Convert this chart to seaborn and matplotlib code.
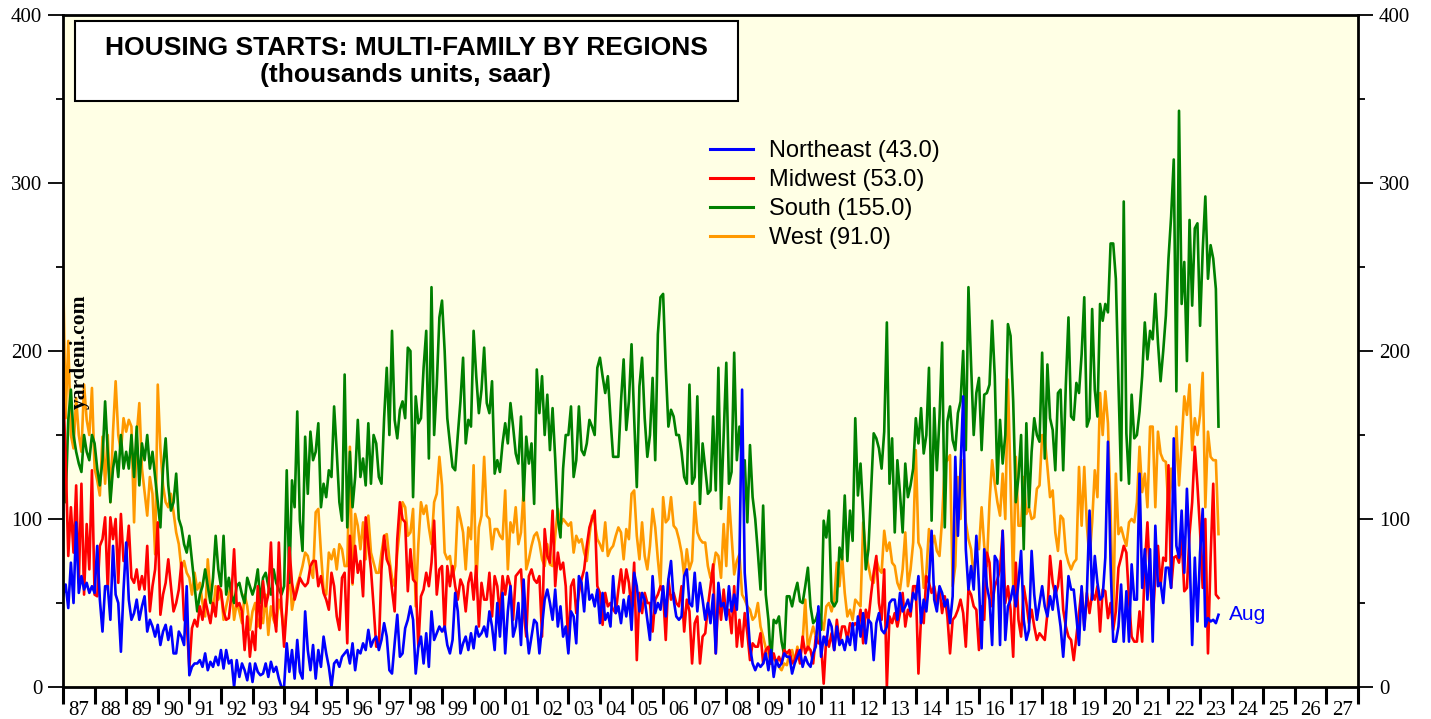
import matplotlib
matplotlib.use("Agg")
import matplotlib.pyplot as plt
import matplotlib.patches as patches
from matplotlib.lines import Line2D
from matplotlib.ticker import MultipleLocator, FixedLocator, FixedFormatter, NullFormatter
import numpy as np
import pandas as pd
import seaborn as sns

# Monthly housing starts, multi-family, thousands of units (saar), Jan 1987 - Aug 2023
northeast = [
    54, 61, 47, 74, 50, 98, 56, 66, 58, 62, 56, 60,   # 1987
    56, 84, 52, 33, 60, 60, 40, 84, 55, 50, 21, 58,   # 1988
    86, 52, 40, 44, 52, 40, 48, 54, 33, 40, 36, 30,   # 1989
    37, 25, 33, 37, 28, 36, 20, 20, 33, 30, 25, 60,   # 1990
    7, 12, 14, 14, 16, 12, 20, 10, 15, 12, 18, 13,    # 1991
    22, 11, 22, 14, 16, 0, 16, 6, 14, 10, 4, 14,      # 1992
    3, 14, 9, 7, 8, 14, 6, 15, 9, 12, 5, 0,           # 1993
    0, 26, 9, 22, 5, 28, 9, 5, 45, 22, 10, 25,        # 1994
    5, 22, 12, 30, 20, 12, 0, 14, 16, 12, 18, 20,     # 1995
    22, 14, 26, 10, 22, 20, 26, 22, 34, 24, 28, 30,   # 1996
    22, 28, 38, 30, 10, 8, 26, 43, 18, 20, 35, 40,    # 1997
    48, 40, 8, 24, 30, 14, 32, 12, 45, 28, 32, 36,    # 1998
    33, 36, 25, 20, 28, 56, 45, 20, 26, 30, 22, 32,   # 1999
    23, 36, 30, 32, 36, 30, 45, 36, 22, 50, 30, 56,   # 2000
    20, 45, 60, 30, 36, 50, 25, 64, 36, 20, 30, 40,   # 2001
    38, 20, 36, 52, 58, 50, 40, 58, 36, 48, 30, 36,   # 2002
    20, 45, 42, 26, 66, 62, 45, 68, 52, 55, 48, 58,   # 2003
    38, 56, 40, 44, 36, 66, 44, 48, 38, 52, 42, 54,   # 2004
    34, 68, 60, 45, 56, 52, 40, 28, 66, 44, 50, 46,   # 2005
    60, 42, 64, 75, 52, 42, 40, 42, 66, 70, 50, 48,   # 2006
    68, 45, 62, 52, 40, 50, 38, 55, 20, 62, 48, 50,   # 2007
    40, 60, 45, 55, 46, 76, 177, 68, 46, 24, 14, 10,  # 2008
    14, 12, 14, 20, 10, 22, 6, 16, 12, 14, 20, 18,    # 2009
    18, 8, 14, 18, 22, 12, 18, 14, 12, 20, 24, 48,    # 2010
    18, 30, 25, 40, 36, 22, 36, 25, 28, 22, 30, 25,   # 2011
    38, 22, 42, 30, 44, 26, 40, 38, 16, 38, 44, 34,   # 2012
    32, 36, 50, 52, 52, 40, 56, 45, 48, 52, 45, 56,   # 2013
    52, 66, 38, 52, 45, 62, 93, 52, 45, 60, 56, 48,   # 2014
    52, 38, 54, 137, 90, 130, 173, 82, 58, 72, 58, 90,  # 2015
    60, 23, 82, 60, 52, 25, 78, 75, 25, 93, 28, 48,   # 2016
    52, 60, 48, 62, 81, 40, 28, 34, 81, 55, 40, 50,   # 2017
    60, 48, 42, 54, 46, 60, 48, 36, 18, 40, 66, 58,   # 2018
    58, 42, 25, 60, 34, 56, 105, 52, 78, 62, 52, 54,  # 2019
    77, 146, 73, 27, 27, 36, 61, 27, 57, 27, 73, 52,  # 2020
    52, 127, 59, 82, 52, 82, 27, 96, 60, 62, 50, 71,  # 2021
    71, 59, 148, 84, 77, 105, 68, 118, 80, 25, 77, 39,  # 2022
    80, 106, 36, 41, 39, 40, 38, 43,                  # 2023
]

midwest = [
    181, 137, 78, 107, 80, 120, 62, 121, 55, 97, 70, 129,  # 1987
    55, 54, 84, 88, 101, 58, 101, 88, 100, 62, 103, 75,    # 1988
    78, 96, 65, 62, 70, 58, 66, 58, 84, 45, 60, 70,        # 1989
    98, 43, 55, 62, 76, 60, 45, 50, 58, 74, 40, 38,        # 1990
    11, 35, 40, 36, 48, 40, 52, 45, 38, 50, 42, 60,        # 1991
    57, 45, 40, 41, 55, 82, 48, 50, 45, 22, 42, 18,        # 1992
    33, 22, 60, 35, 63, 48, 55, 86, 45, 33, 86, 48,        # 1993
    24, 48, 83, 62, 52, 58, 65, 62, 60, 62, 72, 75,        # 1994
    75, 60, 66, 56, 52, 46, 68, 60, 42, 34, 65, 68,        # 1995
    26, 90, 62, 84, 68, 75, 54, 101, 85, 70, 48, 24,       # 1996
    24, 70, 90, 76, 72, 58, 45, 88, 110, 100, 98, 57,      # 1997
    82, 64, 62, 24, 54, 58, 68, 60, 74, 99, 55, 70,        # 1998
    72, 33, 72, 60, 72, 60, 52, 64, 60, 45, 62, 68,        # 1999
    52, 72, 36, 62, 52, 52, 68, 42, 66, 60, 42, 66,        # 2000
    55, 66, 60, 40, 66, 68, 70, 45, 30, 66, 70, 64,        # 2001
    62, 66, 30, 94, 78, 74, 105, 60, 80, 70, 74, 60,       # 2002
    22, 60, 64, 44, 56, 64, 70, 84, 95, 100, 105, 60,      # 2003
    56, 37, 56, 48, 50, 46, 44, 58, 70, 56, 70, 62,        # 2004
    46, 74, 16, 56, 44, 56, 50, 50, 33, 52, 55, 60,        # 2005
    56, 28, 64, 52, 56, 50, 48, 60, 33, 52, 45, 14,        # 2006
    38, 42, 14, 30, 32, 48, 60, 73, 20, 55, 40, 58,        # 2007
    42, 46, 32, 60, 24, 40, 24, 44, 32, 16, 26, 24,        # 2008
    24, 32, 14, 22, 24, 14, 20, 14, 18, 14, 22, 20,        # 2009
    22, 14, 16, 22, 14, 30, 20, 24, 22, 14, 30, 26,        # 2010
    26, 2, 30, 24, 32, 22, 40, 26, 36, 36, 28, 38,         # 2011
    36, 38, 36, 46, 26, 46, 40, 55, 68, 78, 50, 40,        # 2012
    70, 0, 42, 38, 44, 36, 44, 56, 36, 46, 42, 60,         # 2013
    60, 8, 42, 38, 66, 62, 56, 60, 50, 58, 44, 54,         # 2014
    42, 20, 40, 42, 46, 52, 44, 24, 58, 55, 48, 46,        # 2015
    22, 48, 40, 80, 74, 48, 60, 64, 70, 93, 50, 60,        # 2016
    46, 18, 74, 40, 30, 60, 50, 38, 46, 36, 28, 32,        # 2017
    30, 28, 44, 78, 62, 55, 60, 75, 46, 36, 30, 28,        # 2018
    16, 30, 44, 58, 36, 56, 44, 56, 52, 60, 33, 58,        # 2019
    57, 41, 50, 34, 45, 71, 77, 84, 80, 52, 30, 27,        # 2020
    27, 45, 27, 73, 98, 64, 39, 66, 84, 60, 77, 75,        # 2021
    132, 59, 77, 78, 74, 89, 57, 59, 91, 110, 143, 120,    # 2022
    93, 59, 100, 20, 77, 121, 55, 53,                      # 2023
]

south = [
    141, 110, 159, 177, 150, 140, 133, 128, 150, 140, 135, 150,  # 1987
    145, 130, 120, 135, 170, 140, 110, 130, 140, 125, 150, 130,  # 1988
    140, 130, 150, 125, 155, 120, 145, 135, 150, 130, 140, 125,  # 1989
    110, 95, 130, 148, 120, 105, 110, 127, 100, 95, 85, 80,      # 1990
    90, 75, 60, 45, 55, 60, 70, 60, 50, 65, 90, 70,              # 1991
    60, 90, 55, 65, 55, 50, 60, 62, 55, 50, 65, 60,              # 1992
    55, 60, 70, 50, 65, 68, 60, 55, 70, 62, 58, 55,              # 1993
    60, 129, 62, 123, 107, 164, 99, 81, 149, 115, 152, 135,      # 1994
    140, 157, 107, 121, 113, 129, 125, 167, 140, 110, 99, 186,   # 1995
    95, 140, 107, 125, 159, 125, 136, 120, 157, 121, 150, 145,   # 1996
    125, 121, 160, 190, 150, 212, 159, 148, 165, 170, 160, 202,  # 1997
    200, 113, 173, 157, 160, 190, 212, 136, 238, 150, 180, 220,  # 1998
    230, 200, 160, 145, 131, 129, 150, 170, 196, 145, 159, 155,  # 1999
    212, 185, 163, 177, 202, 169, 163, 182, 127, 135, 128, 145,  # 2000
    157, 145, 169, 155, 139, 133, 161, 111, 149, 133, 145, 109,  # 2001
    189, 163, 185, 150, 174, 141, 166, 136, 100, 89, 130, 150,   # 2002
    150, 167, 125, 135, 167, 141, 138, 145, 159, 155, 150, 190,  # 2003
    196, 185, 175, 185, 160, 137, 137, 137, 170, 195, 153, 170,  # 2004
    204, 160, 119, 179, 196, 160, 137, 150, 184, 135, 210, 232,  # 2005
    234, 190, 155, 165, 161, 150, 150, 140, 125, 121, 180, 121,  # 2006
    125, 173, 109, 145, 130, 115, 117, 161, 117, 190, 106, 150,  # 2007
    193, 121, 128, 199, 135, 155, 133, 135, 98, 144, 113, 100,   # 2008
    80, 58, 108, 55, 40, 14, 40, 38, 42, 27, 19, 54,             # 2009
    54, 48, 56, 62, 51, 50, 60, 71, 48, 38, 40, 45,              # 2010
    34, 99, 89, 105, 51, 48, 51, 83, 76, 114, 75, 105,           # 2011
    87, 160, 114, 133, 104, 70, 82, 116, 151, 148, 142, 130,     # 2012
    152, 217, 121, 148, 92, 135, 115, 92, 133, 113, 120, 130,    # 2013
    160, 145, 166, 139, 150, 190, 99, 166, 129, 160, 205, 95,    # 2014
    158, 167, 147, 141, 163, 170, 200, 141, 238, 192, 150, 175,  # 2015
    184, 141, 174, 175, 180, 218, 185, 121, 159, 133, 150, 216,  # 2016
    209, 170, 110, 125, 150, 82, 157, 107, 140, 160, 150, 146,   # 2017
    199, 136, 192, 160, 153, 129, 175, 177, 129, 180, 220, 161,  # 2018
    159, 181, 175, 198, 232, 155, 160, 225, 177, 161, 228, 218,  # 2019
    228, 223, 264, 264, 243, 180, 123, 289, 151, 121, 174, 148,  # 2020
    150, 164, 185, 217, 195, 212, 207, 234, 205, 182, 200, 221,  # 2021
    255, 280, 314, 176, 343, 228, 253, 194, 278, 227, 273, 276,  # 2022
    215, 260, 292, 243, 263, 255, 237, 155,                      # 2023
]

west = [
    252, 160, 206, 150, 142, 172, 150, 140, 180, 159, 150, 178,  # 1987
    130, 123, 114, 149, 121, 150, 110, 152, 182, 150, 140, 160,  # 1988
    152, 159, 155, 98, 150, 169, 130, 116, 102, 125, 115, 79,    # 1989
    180, 142, 120, 110, 107, 115, 104, 92, 85, 70, 75, 68,       # 1990
    65, 55, 68, 58, 62, 50, 42, 76, 55, 45, 60, 52,              # 1991
    58, 40, 48, 55, 62, 40, 50, 45, 38, 55, 48, 34,              # 1992
    45, 50, 36, 42, 38, 55, 31, 48, 40, 36, 52, 45,              # 1993
    32, 48, 70, 46, 55, 61, 66, 72, 80, 78, 70, 65,              # 1994
    104, 106, 80, 58, 55, 80, 76, 82, 70, 85, 82, 72,            # 1995
    72, 143, 61, 103, 96, 82, 98, 76, 102, 80, 74, 68,           # 1996
    68, 80, 90, 91, 76, 65, 60, 80, 95, 110, 107, 90,            # 1997
    92, 106, 48, 85, 110, 103, 108, 95, 85, 110, 115, 137,       # 1998
    120, 80, 76, 78, 66, 72, 107, 100, 92, 70, 95, 88,           # 1999
    132, 60, 95, 102, 137, 102, 100, 82, 94, 94, 90, 88,         # 2000
    117, 70, 98, 92, 107, 85, 92, 117, 70, 76, 84, 90,           # 2001
    92, 86, 76, 72, 85, 73, 72, 90, 106, 96, 100, 98,            # 2002
    96, 98, 80, 90, 86, 88, 80, 75, 90, 102, 98, 88,             # 2003
    85, 81, 98, 78, 82, 84, 90, 95, 92, 76, 94, 88,              # 2004
    115, 117, 90, 76, 98, 78, 70, 84, 106, 95, 76, 60,           # 2005
    113, 98, 100, 113, 96, 94, 88, 80, 66, 82, 70, 75,           # 2006
    110, 92, 88, 86, 86, 72, 65, 70, 80, 78, 65, 97,             # 2007
    72, 113, 90, 67, 75, 79, 55, 52, 48, 46, 40, 42,             # 2008
    50, 36, 30, 23, 20, 14, 18, 15, 12, 10, 14, 13,              # 2009
    20, 22, 15, 24, 18, 27, 52, 22, 30, 36, 30, 28,              # 2010
    40, 34, 48, 50, 45, 52, 74, 60, 78, 56, 42, 46,              # 2011
    40, 52, 50, 48, 98, 80, 72, 64, 62, 76, 70, 68,              # 2012
    93, 81, 86, 74, 72, 62, 58, 70, 92, 60, 70, 86,              # 2013
    141, 86, 82, 59, 68, 94, 84, 90, 81, 78, 100, 133,           # 2014
    135, 138, 60, 72, 125, 100, 135, 98, 88, 82, 65, 84,         # 2015
    82, 107, 84, 72, 110, 135, 121, 110, 102, 127, 100, 183,     # 2016
    121, 60, 137, 96, 96, 125, 103, 107, 100, 101, 118, 120,     # 2017
    150, 148, 131, 113, 117, 92, 81, 102, 100, 80, 74, 70,       # 2018
    74, 76, 131, 96, 131, 96, 76, 98, 129, 113, 175, 150,        # 2019
    176, 157, 105, 39, 127, 91, 95, 89, 84, 98, 100, 98,         # 2020
    110, 143, 116, 127, 107, 155, 155, 107, 152, 139, 135, 134,  # 2021
    105, 130, 110, 155, 120, 145, 173, 162, 180, 141, 160, 150,  # 2022
    162, 187, 107, 152, 137, 135, 135, 91,                       # 2023
]

regions = ["Northeast", "Midwest", "South", "West"]
colors = {"Northeast": "#0000FF", "Midwest": "#FF0000", "South": "#008000", "West": "#FF9900"}
year_labels = [f"{y % 100:02d}" for y in range(1987, 2028)]

dates = pd.date_range("1987-01-01", periods=len(northeast), freq="MS")
df = pd.DataFrame({
    "x": dates.year + (dates.month - 1) / 12,
    "Northeast": northeast,
    "Midwest": midwest,
    "South": south,
    "West": west,
})
long_df = df.melt(id_vars="x", var_name="region", value_name="value")

plt.rcParams["font.family"] = ["Liberation Serif", "DejaVu Serif"]

fig = plt.figure(figsize=(14.31, 7.19), dpi=100)
ax = fig.add_axes([63 / 1431, 32 / 719, 1295 / 1431, 672 / 719])
ax.set_facecolor("#FFFFE5")

# draw so that Northeast ends up on top
sns.lineplot(data=long_df, x="x", y="value", hue="region",
             hue_order=["West", "South", "Midwest", "Northeast"],
             palette=colors, estimator=None, linewidth=1.9, legend=False, ax=ax)

ax.set_xlim(1987, 2028)
ax.set_ylim(0, 400)
ax.set_xlabel("")
ax.set_ylabel("")

for s in ax.spines.values():
    s.set_linewidth(2)
    s.set_color("black")

ax.yaxis.set_major_locator(MultipleLocator(100))
ax.yaxis.set_minor_locator(MultipleLocator(50))
ax.tick_params(axis="y", which="major", length=11, width=1.3, labelsize=15,
               left=True, right=True, labelleft=True, labelright=True, pad=4)
ax.tick_params(axis="y", which="minor", length=5, width=1.3, left=True, right=True)

ax.xaxis.set_major_locator(FixedLocator(np.arange(1987, 2029)))
ax.xaxis.set_major_formatter(NullFormatter())
ax.xaxis.set_minor_locator(FixedLocator(np.arange(1987.5, 2028, 1)))
ax.xaxis.set_minor_formatter(FixedFormatter(year_labels))
ax.tick_params(axis="x", which="major", length=12, width=2.2)
ax.tick_params(axis="x", which="minor", length=0, labelsize=15, pad=10)

# title box
box = patches.Rectangle((75 / 1431, 1 - 101 / 719), 663 / 1431, 80 / 719,
                        transform=fig.transFigure, facecolor="white",
                        edgecolor="black", linewidth=1.5, zorder=5)
fig.add_artist(box)
fig.text(406 / 1431, 1 - 48 / 719, "HOUSING STARTS: MULTI-FAMILY BY REGIONS",
         ha="center", va="center", fontsize=19, fontweight="bold",
         family="Liberation Sans", zorder=6)
fig.text(406 / 1431, 1 - 75 / 719, "(thousands units, saar)",
         ha="center", va="center", fontsize=19, fontweight="bold",
         family="Liberation Sans", zorder=6)

# legend
series = {"Northeast": northeast, "Midwest": midwest, "South": south, "West": west}
handles = [Line2D([0], [0], color=colors[r], linewidth=2.2) for r in regions]
labels = [f"{r} ({series[r][-1]:.1f})" for r in regions]
ax.legend(handles, labels, loc="upper left",
          bbox_to_anchor=(710 / 1431, 1 - 140 / 719), bbox_transform=fig.transFigure,
          frameon=False, prop={"family": "Liberation Sans", "size": 17},
          handlelength=1.8, handletextpad=0.7, labelspacing=0.3,
          borderpad=0, borderaxespad=0)

ax.text(df["x"].iloc[-1] + 0.32, 43, "Aug", color="#0000FF", fontsize=15,
        family="Liberation Sans", va="center", ha="left")

fig.text(80 / 1431, 1 - 352 / 719, "yardeni.com", rotation=90, fontsize=15.5,
         fontweight="bold", ha="center", va="center")

fig.savefig("out.png", dpi=100)
